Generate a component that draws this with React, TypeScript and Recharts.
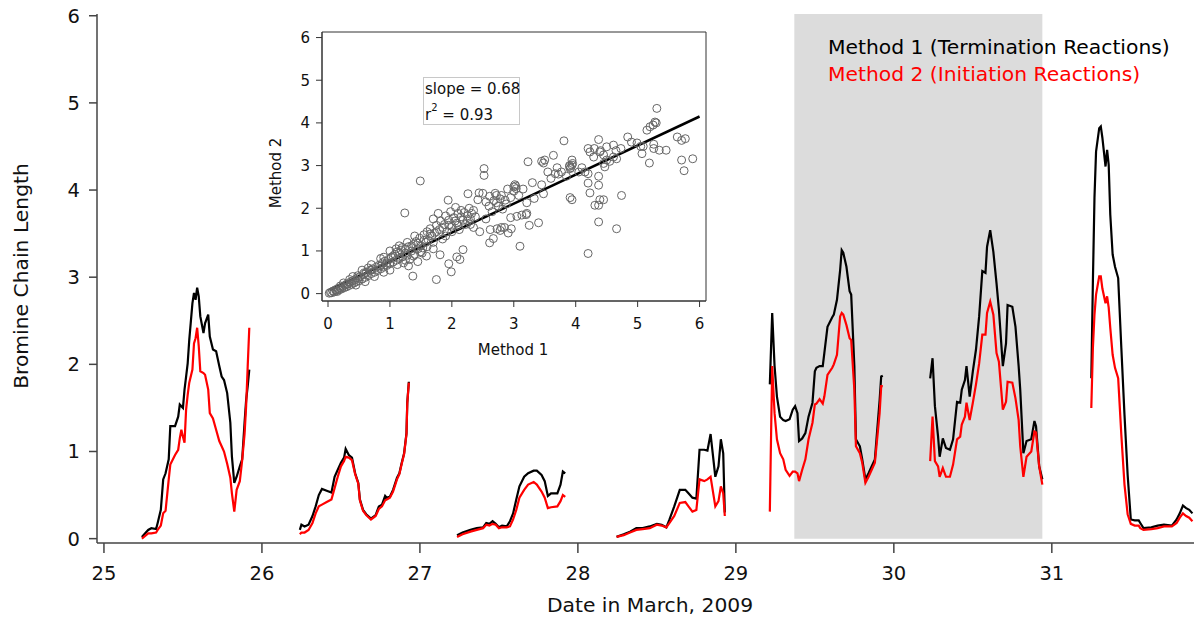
import React from 'react';
import {
  ComposedChart,
  Line,
  XAxis,
  YAxis,
  ReferenceArea,
  ReferenceLine,
  ScatterChart,
  Scatter,
} from 'recharts';

const FONT = '"DejaVu Sans", Verdana, sans-serif';
const BIG = 20.3;

// time in days of March 2009; null rows break the line between days
const times = [
  25.24, 25.28, 25.3, 25.33, 25.34, 25.36, 25.375, 25.39, 25.41, 25.42, 25.45, 25.47, 25.48, 25.49, 25.5,
  25.51, 25.52, 25.53, 25.54, 25.56, 25.57, 25.58, 25.59, 25.6, 25.61, 25.63, 25.64, 25.66, 25.67, 25.69,
  25.71, 25.73, 25.745, 25.76, 25.78, 25.8, 25.81, 25.825, 25.84, 25.86, 25.875, 25.89, 25.9, 25.91, 25.92,
  26.05,
  26.24, 26.25, 26.27, 26.295, 26.32, 26.34, 26.36, 26.38, 26.41, 26.44, 26.46, 26.48, 26.5, 26.52, 26.53,
  26.55, 26.57, 26.59, 26.61, 26.62, 26.64, 26.66, 26.69, 26.72, 26.74, 26.76, 26.78, 26.79, 26.81, 26.83,
  26.855, 26.87, 26.885, 26.9, 26.915, 26.92, 26.93,
  27.05,
  27.235, 27.27, 27.32, 27.36, 27.4, 27.42, 27.44, 27.46, 27.48, 27.5, 27.52, 27.55, 27.57, 27.59, 27.61,
  27.63, 27.66, 27.685, 27.72, 27.74, 27.77, 27.79, 27.81, 27.83, 27.87, 27.89, 27.905, 27.92,
  28.05,
  28.245, 28.29, 28.33, 28.37, 28.41, 28.455, 28.5, 28.53, 28.56, 28.58, 28.61, 28.645, 28.68, 28.7, 28.725,
  28.75, 28.77, 28.8, 28.82, 28.84, 28.87, 28.89, 28.905, 28.92, 28.93,
  29.1,
  29.215, 29.23, 29.245, 29.26, 29.28, 29.3, 29.315, 29.34, 29.36, 29.375, 29.39, 29.4, 29.42, 29.44, 29.46,
  29.485, 29.5, 29.51, 29.53, 29.55, 29.56, 29.58, 29.61, 29.62, 29.64, 29.66, 29.67, 29.68, 29.7, 29.72,
  29.73, 29.75, 29.76, 29.785, 29.8, 29.82, 29.84, 29.86, 29.88, 29.89, 29.91, 29.92, 29.93,
  30.1,
  30.23, 30.245, 30.26, 30.28, 30.29, 30.31, 30.33, 30.355, 30.375, 30.4, 30.42, 30.43, 30.45, 30.46, 30.48,
  30.5, 30.52, 30.54, 30.56, 30.58, 30.59, 30.61, 30.63, 30.65, 30.665, 30.69, 30.71, 30.72, 30.75, 30.77,
  30.79, 30.8, 30.82, 30.84, 30.87, 30.89, 30.9, 30.92, 30.94,
  31.1,
  31.25, 31.26, 31.27, 31.28, 31.3, 31.31, 31.32, 31.34, 31.35, 31.36, 31.37, 31.385, 31.4, 31.42, 31.44,
  31.46, 31.48, 31.5, 31.525, 31.55, 31.56, 31.58, 31.63, 31.67, 31.71, 31.76, 31.79, 31.81, 31.83, 31.85,
  31.87, 31.89,
];

// Method 1 (termination reactions)
const method1 = [
  0.02, 0.1, 0.12, 0.11, 0.18, 0.33, 0.68, 0.75, 0.91, 1.29, 1.29, 1.4, 1.54, 1.52, 1.5,
  1.71, 1.86, 2.01, 2.28, 2.7, 2.82, 2.74, 2.88, 2.78, 2.55, 2.36, 2.47, 2.57, 2.32, 2.17,
  2.15, 1.98, 1.86, 1.82, 1.67, 1.33, 0.94, 0.64, 0.71, 0.83, 0.91, 1.33, 1.59, 1.75, 1.94,
  null,
  0.1, 0.16, 0.14, 0.16, 0.26, 0.37, 0.5, 0.57, 0.55, 0.53, 0.71, 0.79, 0.87, 0.93, 1.03,
  0.96, 0.93, 0.75, 0.64, 0.45, 0.33, 0.28, 0.23, 0.27, 0.37, 0.39, 0.49, 0.47, 0.48, 0.56,
  0.7, 0.75, 0.87, 0.98, 1.21, 1.56, 1.8,
  null,
  0.04, 0.07, 0.1, 0.12, 0.13, 0.18, 0.17, 0.2, 0.17, 0.13, 0.15, 0.14, 0.2, 0.29, 0.45,
  0.6, 0.71, 0.75, 0.78, 0.78, 0.73, 0.66, 0.49, 0.52, 0.52, 0.62, 0.77, 0.75,
  null,
  0.02, 0.05, 0.08, 0.12, 0.12, 0.14, 0.17, 0.16, 0.13, 0.22, 0.37, 0.56, 0.56, 0.52, 0.47,
  0.46, 1.02, 1.02, 1.01, 1.2, 0.71, 0.83, 1.14, 0.98, 0.3,
  null,
  1.77, 2.59, 1.98, 1.63, 1.4, 1.36, 1.35, 1.37, 1.48, 1.52, 1.44, 1.12, 1.15, 1.21, 1.4,
  1.56, 1.92, 1.96, 1.98, 1.98, 2.13, 2.43, 2.54, 2.57, 2.74, 3.08, 3.31, 3.28, 3.12, 2.84,
  2.8, 1.98, 1.14, 1.06, 0.91, 0.68, 0.75, 0.83, 0.91, 1.14, 1.59, 1.86, 1.87,
  null,
  1.84, 2.07, 1.52, 1.17, 0.94, 1.15, 1.04, 1.02, 1.14, 1.57, 1.56, 1.71, 1.82, 1.98, 1.63,
  1.92, 2.17, 2.55, 3.07, 3.05, 3.35, 3.54, 3.29, 2.93, 2.63, 1.98, 2.24, 2.68, 2.66, 2.43,
  1.98, 1.71, 0.98, 1.12, 1.14, 1.35, 1.29, 0.83, 0.68,
  null,
  1.84, 2.95, 3.91, 4.44, 4.71, 4.73, 4.6, 4.27, 4.46, 4.29, 3.72, 3.26, 3.12, 2.99, 2.19,
  1.42, 0.73, 0.22, 0.21, 0.21, 0.18, 0.12, 0.13, 0.15, 0.16, 0.15, 0.22, 0.29, 0.38, 0.35,
  0.33, 0.29,
];

// Method 2 (initiation reactions)
const method2 = [
  0.0, 0.06, 0.06, 0.07, 0.1, 0.15, 0.29, 0.32, 0.68, 0.85, 0.96, 1.02, 1.15, 1.25, 1.17,
  1.1, 1.48, 1.65, 1.79, 1.94, 2.24, 2.3, 2.42, 2.21, 1.92, 1.9, 1.88, 1.71, 1.44, 1.38,
  1.25, 1.12, 1.06, 1.0, 0.86, 0.7, 0.52, 0.31, 0.56, 0.66, 0.9, 1.2, 1.52, 1.98, 2.42,
  null,
  0.05, 0.07, 0.07, 0.1, 0.18, 0.29, 0.37, 0.39, 0.42, 0.45, 0.58, 0.71, 0.83, 0.89, 0.94,
  0.93, 0.9, 0.74, 0.63, 0.44, 0.32, 0.27, 0.22, 0.26, 0.34, 0.37, 0.44, 0.45, 0.47, 0.54,
  0.68, 0.74, 0.86, 0.97, 1.2, 1.55, 1.79,
  null,
  0.02, 0.05, 0.08, 0.1, 0.12, 0.16, 0.15, 0.17, 0.16, 0.12, 0.13, 0.13, 0.14, 0.22, 0.33,
  0.47, 0.56, 0.62, 0.65, 0.62, 0.54, 0.47, 0.35, 0.36, 0.37, 0.43, 0.5, 0.48,
  null,
  0.02, 0.04, 0.07, 0.1, 0.11, 0.12, 0.16, 0.15, 0.13, 0.18, 0.26, 0.41, 0.42, 0.37, 0.31,
  0.33, 0.68, 0.66, 0.68, 0.71, 0.37, 0.43, 0.6, 0.52, 0.26,
  null,
  0.31, 1.98, 1.44, 1.14, 0.98, 0.91, 0.79, 0.72, 0.77, 0.77, 0.75, 0.66, 0.79, 0.91, 1.14,
  1.33, 1.54, 1.55, 1.6, 1.55, 1.63, 1.88, 1.96, 2.0, 2.11, 2.55, 2.59, 2.57, 2.45, 2.3,
  2.28, 1.71, 1.06, 0.98, 0.87, 0.64, 0.71, 0.79, 0.87, 1.06, 1.44, 1.75, 1.75,
  null,
  0.89, 1.4, 0.89, 0.83, 0.71, 0.81, 0.71, 0.71, 0.85, 1.14, 1.17, 1.31, 1.4, 1.56, 1.36,
  1.56, 1.77, 2.01, 2.34, 2.34, 2.59, 2.72, 2.57, 2.13, 2.03, 1.48, 1.57, 1.8, 1.79, 1.61,
  1.36, 1.06, 0.71, 0.94, 1.0, 1.23, 1.22, 0.83, 0.62,
  null,
  1.5, 2.19, 2.57, 2.8, 3.01, 3.01, 2.87, 2.7, 2.78, 2.65, 2.42, 2.11, 1.96, 1.84, 1.19,
  0.62, 0.28, 0.17, 0.15, 0.15, 0.12, 0.1, 0.11, 0.12, 0.14, 0.14, 0.18, 0.24, 0.29, 0.26,
  0.24, 0.2,
];

const dayTicks = [25, 26, 27, 28, 29, 30, 31];
const chainTicks = [0, 1, 2, 3, 4, 5, 6];
const shadeStart = 29.37;
const shadeEnd = 30.94;

// inset: Method 1 (x) vs Method 2 (y)
const scatterPoints: [number, number][] = [
  [0.02, 0.01], [0.04, 0.03], [0.06, 0.02], [0.08, 0.06], [0.1, 0.04], [0.12, 0.09], [0.14, 0.07],
  [0.16, 0.12], [0.18, 0.09], [0.2, 0.14], [0.22, 0.11], [0.24, 0.17], [0.26, 0.14], [0.28, 0.2],
  [0.3, 0.16], [0.32, 0.23], [0.34, 0.19], [0.36, 0.27], [0.38, 0.22], [0.4, 0.3], [0.42, 0.25],
  [0.44, 0.33], [0.46, 0.28], [0.48, 0.37], [0.5, 0.3], [0.52, 0.4], [0.55, 0.34], [0.58, 0.45],
  [0.6, 0.38], [0.62, 0.5], [0.65, 0.42], [0.68, 0.55], [0.7, 0.47], [0.72, 0.58], [0.75, 0.5],
  [0.78, 0.62], [0.8, 0.54], [0.82, 0.66], [0.85, 0.58], [0.88, 0.72], [0.9, 0.62], [0.92, 0.76],
  [0.95, 0.66], [0.98, 0.8], [1.0, 0.7], [1.02, 0.85], [1.05, 0.74], [1.08, 0.92], [1.1, 0.78],
  [1.12, 0.98], [1.15, 0.82], [1.18, 1.02], [1.2, 0.86], [1.22, 0.72], [1.25, 1.05], [1.28, 0.9],
  [1.3, 1.1], [1.32, 0.8], [1.35, 1.0], [1.38, 1.15], [1.4, 0.92], [1.42, 1.22], [1.45, 1.05],
  [1.48, 1.3], [1.5, 1.12], [1.52, 0.95], [1.55, 1.38], [1.58, 1.2], [1.6, 1.45], [1.62, 1.25],
  [1.65, 1.52], [1.68, 1.35], [1.7, 1.75], [1.72, 1.42], [1.75, 1.6], [1.78, 1.88], [1.8, 1.5],
  [1.82, 1.7], [1.85, 1.28], [1.88, 1.62], [1.9, 1.82], [1.92, 1.45], [1.95, 1.72], [1.98, 1.92],
  [2.0, 1.58], [2.03, 1.78], [2.06, 2.02], [2.08, 1.65], [2.1, 1.88], [2.12, 1.5], [2.15, 1.95],
  [2.18, 1.72], [2.2, 1.9], [2.22, 1.62], [2.25, 1.82], [2.28, 2.0], [2.3, 1.75], [2.32, 1.88],
  [2.35, 1.55], [2.38, 1.8], [2.55, 1.75], [2.6, 2.05], [2.65, 1.92], [2.68, 2.18], [2.75, 2.05],
  [2.78, 2.22], [2.82, 1.98], [2.88, 2.1], [2.95, 2.25], [3.0, 2.4], [3.08, 2.3], [3.15, 2.45],
  [3.3, 2.6], [3.45, 2.55], [3.55, 2.85], [3.6, 2.7], [3.7, 2.95], [3.85, 2.75], [3.9, 2.98],
  [3.95, 3.05], [4.05, 2.85], [4.1, 2.95], [4.45, 3.05], [4.55, 3.1], [4.4, 3.35], [4.65, 3.35],
  [4.9, 3.55], [5.05, 3.45],
  [0.45, 0.2], [0.6, 0.28], [0.75, 0.4], [0.9, 0.5], [1.0, 0.55], [0.55, 0.55], [0.7, 0.68],
  [0.85, 0.82], [1.1, 1.05], [1.2, 1.08], [1.4, 1.35], [1.0, 1.0], [1.3, 0.65], [1.45, 0.75],
  [0.4, 0.4], [0.25, 0.25],
  [1.05, 0.88], [1.15, 0.95], [1.25, 0.95], [1.35, 1.12], [1.45, 1.18], [1.55, 1.25], [1.65, 1.4],
  [1.75, 1.45], [1.85, 1.55], [1.95, 1.6], [2.05, 1.7], [2.15, 1.8], [2.25, 1.7], [2.35, 1.95],
  [2.1, 1.6], [2.3, 1.62], [1.6, 1.1], [1.7, 1.2], [1.9, 1.35], [2.0, 1.45], [1.12, 0.68],
  [1.25, 0.78], [1.38, 0.88], [1.5, 0.98], [0.95, 0.72], [0.85, 0.65], [0.7, 0.55], [0.58, 0.48],
  [0.48, 0.42], [0.3, 0.22], [0.2, 0.18], [0.15, 0.05], [0.35, 0.33], [0.65, 0.6], [0.9, 0.85],
  [1.15, 1.12], [1.28, 1.2], [2.42, 2.2], [2.5, 2.35], [2.55, 2.15], [2.7, 2.35], [2.8, 2.3],
  [2.9, 2.45], [3.0, 2.5], [3.02, 2.55], [2.62, 1.5], [2.78, 1.48], [2.85, 1.55], [2.95, 1.78],
  [3.2, 1.85], [3.45, 3.1], [3.92, 2.95], [3.9, 3.0], [4.3, 3.4], [4.45, 3.25], [5.3, 4.0],
  [5.25, 3.95],
  [1.49, 2.64], [2.52, 2.93], [2.52, 2.77], [1.24, 1.89], [1.94, 2.19], [2.26, 2.34], [2.44, 2.36],
  [2.61, 2.28], [2.72, 2.3], [1.37, 0.41], [1.75, 0.33], [1.99, 0.51], [1.95, 0.7], [2.08, 0.86],
  [2.13, 0.8], [1.81, 0.91], [1.7, 1.05], [1.59, 0.88], [1.53, 1.07], [2.18, 1.03], [2.45, 1.45],
  [2.61, 1.19], [2.67, 1.29], [2.73, 1.52], [2.8, 1.55], [2.91, 1.42], [2.96, 1.52], [3.1, 1.11],
  [3.05, 1.81], [3.13, 1.84], [3.21, 1.88], [3.25, 1.6], [3.4, 1.66], [3.23, 3.09], [3.03, 2.52],
  [3.04, 2.46], [2.72, 2.13], [2.86, 2.19], [3.21, 2.13], [3.33, 2.23], [3.48, 2.34], [3.48, 3.06],
  [3.5, 3.13], [3.64, 3.24], [3.67, 2.81], [3.72, 2.8], [3.77, 2.85], [3.81, 3.58], [3.91, 2.93],
  [3.94, 3.01], [3.94, 3.13], [3.94, 2.2], [3.91, 2.25], [4.2, 3.4], [4.15, 2.85], [4.2, 2.81],
  [4.2, 2.59], [4.23, 2.36], [4.2, 0.94], [4.31, 2.07], [4.37, 2.07], [4.39, 2.2], [4.37, 1.68],
  [4.45, 2.2], [4.37, 2.54], [4.37, 2.75], [4.37, 3.61], [4.23, 3.32], [4.29, 3.2], [4.39, 3.32],
  [4.47, 2.97], [4.5, 3.13], [4.5, 3.44], [4.61, 3.48], [4.61, 3.2], [4.66, 3.16], [4.74, 2.3],
  [4.66, 1.52], [4.73, 3.4], [4.84, 3.67], [4.99, 3.53], [5.07, 3.28], [5.09, 3.45], [5.19, 3.06],
  [5.26, 3.5], [5.26, 3.4], [5.35, 3.36], [5.46, 3.36], [5.15, 3.83], [5.2, 3.91], [5.28, 4.02],
  [5.31, 4.34], [5.64, 3.67], [5.71, 3.59], [5.77, 3.63], [5.71, 3.13], [5.75, 2.88], [5.89, 3.16],
];
const insetTicks = [0, 1, 2, 3, 4, 5, 6];
const fitSlope = 0.68;
const fitIntercept = 0.07;

const seriesData = times.map((t, i) => ({ t, m1: method1[i], m2: method2[i] }));
const scatterData = scatterPoints.map(([x, y]) => ({ x, y }));
const fitSegment = [
  { x: 0.03, y: fitIntercept + fitSlope * 0.03 },
  { x: 6, y: fitIntercept + fitSlope * 6 },
];

const OpenCircle = (props: any) => (
  <circle cx={props.cx} cy={props.cy} r={4} fill="none" stroke="#666" strokeWidth={1} />
);

const App: React.FC = () => {
  const axisColor = '#444';
  return (
    <div
      style={{
        position: 'absolute',
        left: 0,
        top: 0,
        width: 1194,
        height: 617,
        background: '#fff',
        fontFamily: FONT,
        overflow: 'hidden',
      }}
    >
      <ComposedChart width={1194} height={617} data={seriesData} margin={{ top: 14, right: 0, bottom: 24, left: 0 }}>
        <ReferenceArea x1={shadeStart} x2={shadeEnd} y1={0} y2={6.02} fill="#dcdcdc" fillOpacity={1} stroke="none" />
        <XAxis
          dataKey="t"
          type="number"
          domain={[24.956, 31.9]}
          allowDataOverflow
          ticks={dayTicks}
          height={50}
          tickSize={10}
          tickMargin={13}
          axisLine={{ stroke: axisColor, strokeWidth: 1.5 }}
          tickLine={{ stroke: axisColor, strokeWidth: 1.5 }}
          tick={{ fill: '#111', fontSize: 19.5, fontFamily: FONT }}
        />
        <YAxis
          type="number"
          domain={[-0.05, 6.02]}
          allowDataOverflow
          ticks={chainTicks}
          width={97}
          tickSize={8}
          tickMargin={9}
          axisLine={{ stroke: axisColor, strokeWidth: 1.5 }}
          tickLine={{ stroke: axisColor, strokeWidth: 1.5 }}
          tick={{ fill: '#111', fontSize: 19.5, fontFamily: FONT }}
        />
        <Line
          dataKey="m1"
          type="linear"
          stroke="#000"
          strokeWidth={2.2}
          dot={false}
          connectNulls={false}
          isAnimationActive={false}
        />
        <Line
          dataKey="m2"
          type="linear"
          stroke="#ff0000"
          strokeWidth={2.2}
          dot={false}
          connectNulls={false}
          isAnimationActive={false}
        />
      </ComposedChart>

      {/* axis titles */}
      <div
        style={{
          position: 'absolute',
          left: 21,
          top: 276,
          transform: 'translate(-50%, -50%) rotate(-90deg)',
          whiteSpace: 'nowrap',
          fontSize: BIG,
          lineHeight: 1,
          color: '#111',
        }}
      >
        Bromine Chain Length
      </div>
      <div
        style={{
          position: 'absolute',
          left: 650,
          top: 605,
          transform: 'translate(-50%, -50%)',
          whiteSpace: 'nowrap',
          fontSize: BIG,
          lineHeight: 1,
          color: '#111',
        }}
      >
        Date in March, 2009
      </div>

      {/* legend */}
      <div style={{ position: 'absolute', left: 828, top: 37, fontSize: BIG, lineHeight: 1, color: '#000', whiteSpace: 'nowrap' }}>
        Method 1 (Termination Reactions)
      </div>
      <div style={{ position: 'absolute', left: 828, top: 64, fontSize: BIG, lineHeight: 1, color: '#ff0000', whiteSpace: 'nowrap' }}>
        Method 2 (Initiation Reactions)
      </div>

      {/* inset scatter */}
      <div style={{ position: 'absolute', left: 260, top: 20 }}>
        <ScatterChart width={460} height={350} margin={{ top: 12, right: 14, bottom: 29, left: 0 }}>
          <XAxis
            dataKey="x"
            type="number"
            domain={[-0.097, 6.104]}
            allowDataOverflow
            ticks={insetTicks}
            height={40}
            tickSize={6}
            tickMargin={11}
            axisLine={{ stroke: '#333' }}
            tickLine={{ stroke: '#333' }}
            tick={{ fill: '#111', fontSize: 15, fontFamily: FONT }}
          />
          <YAxis
            dataKey="y"
            type="number"
            domain={[-0.173, 6.13]}
            allowDataOverflow
            ticks={insetTicks}
            width={62}
            tickSize={6}
            tickMargin={6}
            axisLine={{ stroke: '#333' }}
            tickLine={{ stroke: '#333' }}
            tick={{ fill: '#111', fontSize: 15, fontFamily: FONT }}
          />
          <ReferenceArea x1={-0.097} x2={6.104} y1={-0.173} y2={6.13} fill="none" stroke="#333" strokeWidth={1} />
          <Scatter data={scatterData} shape={OpenCircle} isAnimationActive={false} />
          <ReferenceLine segment={fitSegment} stroke="#000" strokeWidth={2.5} />
        </ScatterChart>
      </div>
      <div
        style={{
          position: 'absolute',
          left: 276,
          top: 173,
          transform: 'translate(-50%, -50%) rotate(-90deg)',
          whiteSpace: 'nowrap',
          fontSize: 15,
          lineHeight: 1,
          color: '#111',
        }}
      >
        Method 2
      </div>
      <div
        style={{
          position: 'absolute',
          left: 513,
          top: 350,
          transform: 'translate(-50%, -50%)',
          whiteSpace: 'nowrap',
          fontSize: 15,
          lineHeight: 1,
          color: '#111',
        }}
      >
        Method 1
      </div>
      <div
        style={{
          position: 'absolute',
          left: 423,
          top: 77,
          width: 97,
          height: 48,
          boxSizing: 'border-box',
          border: '1px solid #c8c8c8',
          background: '#fff',
          fontSize: 15,
          lineHeight: 1,
          color: '#111',
          whiteSpace: 'nowrap',
        }}
      >
        <div style={{ position: 'absolute', left: 1, top: 4 }}>slope = 0.68</div>
        <div style={{ position: 'absolute', left: 1, top: 30 }}>
          r<span style={{ position: 'relative', top: -9, fontSize: 10 }}>2</span> = 0.93
        </div>
      </div>
    </div>
  );
};

export default App;
